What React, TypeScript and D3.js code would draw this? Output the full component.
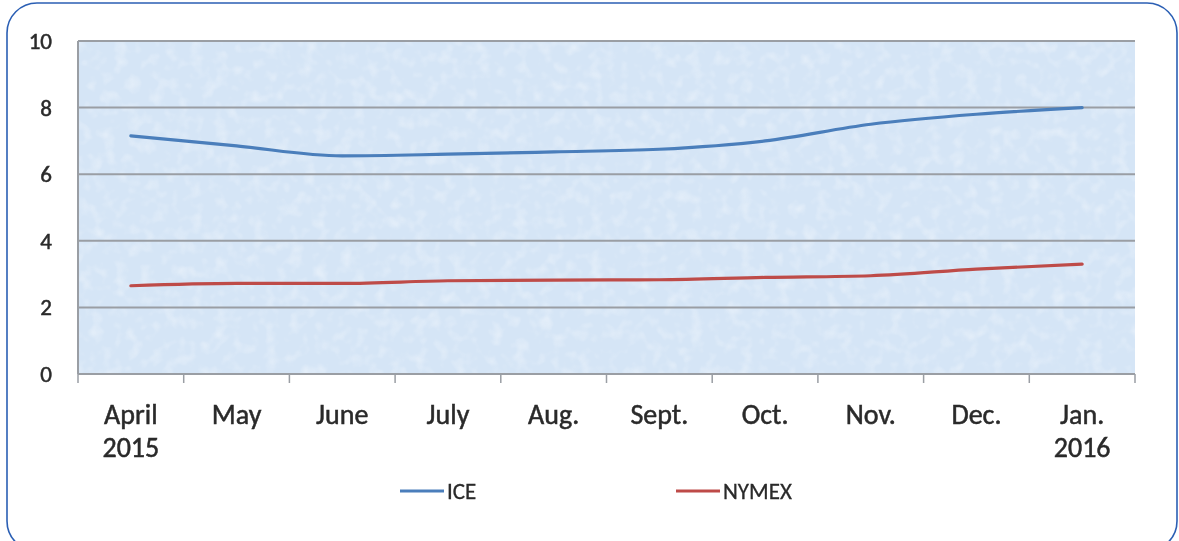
import * as React from "react";
import * as d3 from "d3";

const months: string[][] = [
    ["April", "2015"], ["May"], ["June"], ["July"], ["Aug."],
    ["Sept."], ["Oct."], ["Nov."], ["Dec."], ["Jan.", "2016"]
];
const iceValues: number[] = [7.15, 6.85, 6.55, 6.6, 6.67, 6.75, 7.0, 7.5, 7.8, 8.0];
const nymexValues: number[] = [2.65, 2.72, 2.72, 2.8, 2.82, 2.83, 2.9, 2.95, 3.15, 3.3];
const yTicks: number[] = [0, 2, 4, 6, 8, 10];
const seriesNames: string[] = ["ICE", "NYMEX"];

const W: number = 1179;
const H: number = 541;
const margin = { top: 41, right: 44, bottom: 167, left: 78 };
const blue: string = "#4a7ebb";
const red: string = "#be4b48";
const textColor: string = "#2a2a2a";
const font: string = "Carlito, 'Open Sans', 'Liberation Sans', sans-serif";

const App = (): JSX.Element => {
    const ref = React.useRef<SVGSVGElement>(null);

    React.useEffect(() => {
        const svg = d3.select(ref.current);
        svg.selectAll("*").remove();
        const width: number = W - margin.left - margin.right;
        const height: number = H - margin.top - margin.bottom;

        const x = d3.scaleBand<number>().domain(d3.range(months.length)).range([0, width]);
        const y = d3.scaleLinear().domain([0, 10]).range([height, 0]);

        // mottled paper texture for the plot area
        const defs = svg.append("defs");
        const filt = defs.append("filter").attr("id", "mottle")
            .attr("x", 0).attr("y", 0).attr("width", "100%").attr("height", "100%");
        filt.append("feTurbulence").attr("type", "fractalNoise")
            .attr("baseFrequency", 0.08).attr("numOctaves", 2).attr("seed", 4).attr("result", "n");
        filt.append("feColorMatrix").attr("in", "n").attr("type", "matrix")
            .attr("values", "0 0 0 0 1  0 0 0 0 1  0 0 0 0 1  1.6 0 0 0 -0.75");

        // outer frame
        svg.append("rect")
            .attr("x", 7).attr("y", 3).attr("width", 1170).attr("height", 548)
            .attr("rx", 30).attr("fill", "white")
            .attr("stroke", "#2b5fb4").attr("stroke-width", 1.6);

        const g = svg.append("g").attr("transform", `translate(${margin.left},${margin.top})`);

        g.append("rect").attr("width", width).attr("height", height).attr("fill", "#d5e5f6");
        g.append("rect").attr("width", width).attr("height", height)
            .attr("filter", "url(#mottle)").attr("opacity", 0.5);

        // gridlines
        g.selectAll(".grid").data(yTicks.filter((t: number) => t > 0)).enter().append("line")
            .attr("x1", 0).attr("x2", width)
            .attr("y1", (d: number) => y(d)).attr("y2", (d: number) => y(d))
            .attr("stroke", "#9a9ea4").attr("stroke-width", 2);

        // left axis line
        g.append("line").attr("x1", 0).attr("x2", 0).attr("y1", 0).attr("y2", height)
            .attr("stroke", "#9a9ea4").attr("stroke-width", 2);

        // bottom axis with ticks at band edges
        g.append("line").attr("x1", 0).attr("x2", width).attr("y1", height).attr("y2", height)
            .attr("stroke", "#9a9ea4").attr("stroke-width", 2);
        g.selectAll(".xtick").data(d3.range(months.length + 1)).enter().append("line")
            .attr("x1", (i: number) => i * x.step()).attr("x2", (i: number) => i * x.step())
            .attr("y1", height).attr("y2", height + 9)
            .attr("stroke", "#9a9ea4").attr("stroke-width", 1.5);

        // y labels
        g.selectAll(".ylab").data(yTicks).enter().append("text")
            .attr("x", -26).attr("y", (d: number) => y(d) + 8)
            .attr("text-anchor", "end")
            .attr("font-family", font).attr("font-size", 23)
            .attr("fill", textColor).attr("stroke", textColor).attr("stroke-width", 0.5)
            .text((d: number) => d);

        // x labels
        const xl = g.selectAll(".xlab").data(months).enter().append("text")
            .attr("text-anchor", "middle")
            .attr("font-family", font).attr("font-size", 28)
            .attr("fill", textColor).attr("stroke", textColor).attr("stroke-width", 0.5)
            .attr("transform", (_d: string[], i: number) => `translate(${x(i)! + x.bandwidth() / 2},${height + 50})`);
        xl.selectAll("tspan").data((d: string[]) => d).enter().append("tspan")
            .attr("x", 0).attr("dy", (_d: string, i: number) => i === 0 ? 0 : 33)
            .text((d: string) => d);

        const line = d3.line<number>()
            .x((_d: number, i: number) => x(i)! + x.bandwidth() / 2)
            .y((d: number) => y(d))
            .curve(d3.curveMonotoneX);

        [iceValues, nymexValues].forEach((vals: number[], k: number) => {
            g.append("path").datum(vals).attr("d", line)
                .attr("fill", "none").attr("stroke", k === 0 ? blue : red)
                .attr("stroke-width", 3.2).attr("stroke-linecap", "round");
        });

        // legend
        const legX: number[] = [400, 676];
        seriesNames.forEach((name: string, k: number) => {
            svg.append("line").attr("x1", legX[k]).attr("x2", legX[k] + 44)
                .attr("y1", 491).attr("y2", 491)
                .attr("stroke", k === 0 ? blue : red).attr("stroke-width", 3);
            svg.append("text").attr("x", legX[k] + 47).attr("y", 499)
                .attr("font-family", font).attr("font-size", 23)
                .attr("fill", textColor).attr("stroke", textColor).attr("stroke-width", 0.3)
                .text(name);
        });
    }, []);

    return <svg ref={ref} width={W} height={H}
        style={{ position: "fixed", left: 0, top: 0, display: "block" }} />;
};

export default App;
